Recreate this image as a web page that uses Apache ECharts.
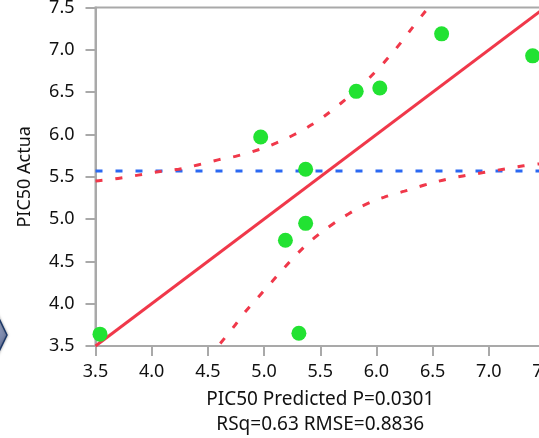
<!DOCTYPE html>
<html>
<head>
<meta charset="utf-8">
<script src="https://cdn.jsdelivr.net/npm/echarts@6/dist/echarts.min.js"></script>
<style>
  html, body { margin: 0; padding: 0; background: #fff; }
  #chart { width: 539px; height: 438px; }
</style>
</head>
<body>
<div id="chart"></div>
<script>
// observed points: [predicted, actual]
const points = [
  [3.54, 3.64], [6.58, 7.19], [7.39, 6.93], [5.82, 6.51], [6.03, 6.55],
  [4.97, 5.97], [5.37, 5.59], [5.37, 4.95], [5.19, 4.75], [5.31, 3.65],
];
const fitLine = [[3.5, 3.5], [7.5, 7.5]];
const meanValue = 5.57;
const upperCurve = [
  [3.5, 5.45], [3.70, 5.48], [3.88, 5.52], [4.06, 5.56], [4.24, 5.59],
  [4.41, 5.64], [4.59, 5.70], [4.77, 5.75], [4.95, 5.82], [5.11, 5.90],
  [5.27, 6.00], [5.43, 6.12], [5.58, 6.26], [5.72, 6.41], [5.85, 6.56],
  [5.99, 6.74], [6.10, 6.90], [6.22, 7.09], [6.33, 7.28], [6.45, 7.48],
];
const lowerCurve = [
  [4.61, 3.53], [4.72, 3.71], [4.83, 3.90], [4.95, 4.08], [5.07, 4.26],
  [5.19, 4.44], [5.31, 4.61], [5.45, 4.78], [5.60, 4.93], [5.75, 5.06],
  [5.90, 5.17], [6.07, 5.26], [6.25, 5.33], [6.42, 5.40], [6.59, 5.46],
  [6.77, 5.51], [6.95, 5.55], [7.13, 5.59], [7.31, 5.63], [7.5, 5.66],
];
const xName = "PIC50 Predicted P=0.0301\nRSq=0.63 RMSE=0.8836";
const yName = "PIC50 Actua";

const font = "Noto Sans";
const fontSize = 18;
const axisGray = "#a9a9a9";
const red = "#f0384a";
const blue = "#2a68f2";
const green = "#22e232";

const chart = echarts.init(document.getElementById("chart"));

const axisCommon = {
  type: "value",
  min: 3.5,
  max: 7.5,
  interval: 0.5,
  axisLine: { show: true, lineStyle: { color: axisGray, width: 2 } },
  axisTick: { show: true, length: 10, lineStyle: { color: axisGray, width: 2 } },
  splitLine: { show: false },
  nameTextStyle: { fontFamily: font, fontSize: fontSize, color: "#111" },
};

chart.setOption({
  animation: false,
  grid: {
    left: 95.5, top: 7.6, width: 449.5, height: 338.4,
    containLabel: false,
    outerBoundsMode: "none",
    show: true, borderColor: axisGray, borderWidth: 2,
  },
  xAxis: {
    ...axisCommon,
    name: xName,
    nameLocation: "middle",
    nameGap: 41,
    nameTextStyle: { ...axisCommon.nameTextStyle, fontSize: 19, lineHeight: 25 },
    axisLabel: {
      fontFamily: font, fontSize: fontSize, color: "#111", margin: 17,
      formatter: (v) => v.toFixed(1),
    },
  },
  yAxis: {
    ...axisCommon,
    name: yName,
    nameLocation: "middle",
    nameGap: 62,
    axisLabel: {
      fontFamily: font, fontSize: fontSize, color: "#111", margin: 21,
      formatter: (v) => v.toFixed(1),
    },
  },
  graphic: [
    {
      type: "polygon",
      shape: { points: [[7, 335], [-10, 300], [-27, 335], [-10, 370]] },
      style: {
        fill: new echarts.graphic.LinearGradient(0, 0, 1, 1, [
          { offset: 0, color: "#c4cadb" },
          { offset: 1, color: "#4a5b8c" },
        ]),
        stroke: "#1b3768",
        lineWidth: 1.5,
        shadowBlur: 3,
        shadowColor: "rgba(0,0,0,0.35)",
      },
    },
  ],
  series: [
    {
      type: "line",
      data: [[3.5, meanValue], [7.5, meanValue]],
      symbol: "none",
      lineStyle: { color: blue, width: 3, type: [7, 13] },
      z: 2,
    },
    {
      type: "line",
      data: upperCurve,
      symbol: "none",
      smooth: true,
      lineStyle: { color: red, width: 3, type: [7, 13] },
      z: 3,
    },
    {
      type: "line",
      data: lowerCurve,
      symbol: "none",
      smooth: true,
      lineStyle: { color: red, width: 3, type: [7, 13] },
      z: 3,
    },
    {
      type: "line",
      data: fitLine,
      symbol: "none",
      lineStyle: { color: red, width: 3 },
      z: 4,
    },
    {
      type: "scatter",
      data: points,
      symbolSize: 15,
      itemStyle: { color: green, opacity: 1 },
      z: 5,
    },
  ],
});
</script>
</body>
</html>
